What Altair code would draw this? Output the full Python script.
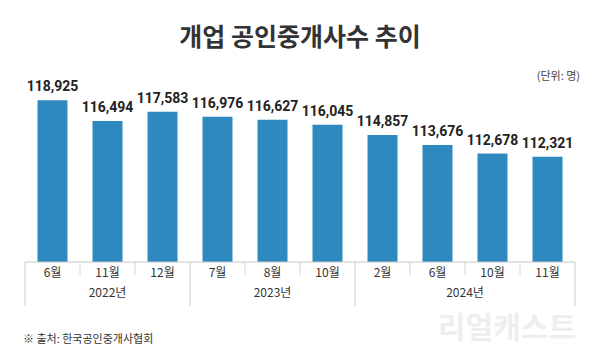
import altair as alt
import pandas as pd

months = ["6월", "11월", "12월", "7월", "8월", "10월", "2월", "6월", "10월", "11월"]
values = [118925, 116494, 117583, 116976, 116627, 116045, 114857, 113676, 112678, 112321]
years = ["2022년", "2023년", "2024년"]
group_sizes = [3, 3, 4]

title_text = "개업 공인중개사수 추이"
unit_text = "(단위: 명)"
source_text = "※ 출처: 한국공인중개사협회"
watermark_text = "리얼캐스트"

W, H = 560, 171
BAR_COLOR = "#2E89BF"
FONT = "Noto Sans CJK KR"

n = len(values)
bars_df = pd.DataFrame({"idx": list(range(n)), "value": values, "month": months,
                        "label": [f"{v:,}" for v in values]})

# group boundaries and centers
bounds = [-0.5]
centers = []
start = 0
for g in group_sizes:
    centers.append(start + (g - 1) / 2)
    start += g
    bounds.append(start - 0.5)
years_df = pd.DataFrame({"pos": centers, "year": years})
long_df = pd.DataFrame({"pos": bounds})
short_pos = [i + 0.5 for i in range(n - 1) if (i + 0.5) not in bounds]
short_df = pd.DataFrame({"pos": short_pos})

xs = alt.Scale(domain=[-0.5, n - 0.5], nice=False, zero=False)
ys = alt.Scale(domain=[100000, 120000], nice=False, zero=False)

bars = alt.Chart(bars_df).mark_bar(size=30, color=BAR_COLOR).encode(
    x=alt.X("idx:Q", scale=xs, axis=None),
    y=alt.Y("value:Q", scale=ys, axis=None),
    y2=alt.datum(100000),
)

labels = alt.Chart(bars_df).mark_text(
    font="Roboto", fontSize=14, fontWeight="bold",
    color="#222222", baseline="alphabetic", dy=-9
).encode(
    x=alt.X("idx:Q", scale=xs),
    y=alt.Y("value:Q", scale=ys),
    text="label:N",
)

month_text = alt.Chart(bars_df).mark_text(
    font=FONT, fontSize=12, color="#333333", baseline="middle"
).encode(
    x=alt.X("idx:Q", scale=xs),
    y=alt.value(182),
    text="month:N",
)

year_text = alt.Chart(years_df).mark_text(
    font=FONT, fontSize=12, color="#333333", baseline="middle"
).encode(
    x=alt.X("pos:Q", scale=xs),
    y=alt.value(202),
    text="year:N",
)

baseline = alt.Chart(pd.DataFrame({"a": [0]})).mark_rule(color="#c8c8c8", strokeWidth=1).encode(
    x=alt.datum(-0.5, scale=xs),
    x2=alt.datum(n - 0.5),
    y=alt.value(H),
)

long_rules = alt.Chart(long_df).mark_rule(color="#cccccc", strokeWidth=1).encode(
    x=alt.X("pos:Q", scale=xs),
    y=alt.value(H),
    y2=alt.value(H + 44),
)

short_rules = alt.Chart(short_df).mark_rule(color="#d4d4d4", strokeWidth=1).encode(
    x=alt.X("pos:Q", scale=xs),
    y=alt.value(H),
    y2=alt.value(H + 13),
)

one = pd.DataFrame({"t": [0]})
title = alt.Chart(one).mark_text(
    font=FONT, fontSize=25, fontWeight="bold", color="#333333",
    align="center", baseline="middle", text=title_text
).encode(x=alt.value(W / 2), y=alt.value(-53))

unit = alt.Chart(one).mark_text(
    font=FONT, fontSize=11, color="#444444",
    align="right", baseline="middle", text=unit_text
).encode(x=alt.value(W), y=alt.value(-14))

source = alt.Chart(one).mark_text(
    font=FONT, fontSize=11, color="#333333",
    align="left", baseline="middle", text=source_text
).encode(x=alt.value(3), y=alt.value(249))

watermark = alt.Chart(one).mark_text(
    font=FONT, fontSize=30, fontWeight="bold", color="#eeeeee",
    align="center", baseline="middle", text=watermark_text
).encode(x=alt.value(487), y=alt.value(238))

chart = alt.layer(
    watermark, bars, labels, baseline, long_rules, short_rules,
    month_text, year_text, title, unit, source
).properties(
    width=W, height=H,
    autosize=alt.AutoSizeParams(type="none"),
    padding={"left": 12, "top": 83, "right": 12, "bottom": 90},
    background="white",
).configure_view(stroke=None)

chart.save("out.html", embed_options={"renderer": "svg", "actions": False})
